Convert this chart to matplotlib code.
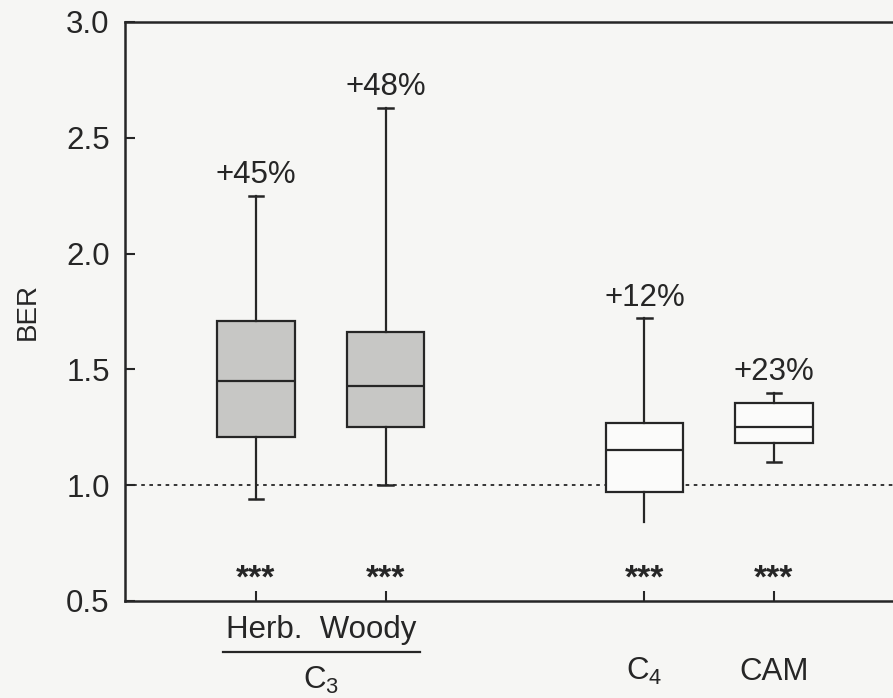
import matplotlib.pyplot as plt
import matplotlib.transforms as mtransforms

plt.rcParams['font.family'] = ['Liberation Sans', 'DejaVu Sans']
plt.rcParams['mathtext.default'] = 'regular'

# box statistics per group: lower whisker, Q1, median, Q3, upper whisker
groups = ['Herb', 'Woody', 'C4', 'CAM']
positions = [1, 2, 4, 5]
whislo = [0.94, 1.00, 0.84, 1.10]
q1 = [1.21, 1.25, 0.97, 1.18]
med = [1.45, 1.43, 1.15, 1.25]
q3 = [1.71, 1.66, 1.27, 1.355]
whishi = [2.25, 2.63, 1.72, 1.40]
pct_labels = ['+45%', '+48%', '+12%', '+23%']
sig_labels = ['***', '***', '***', '***']
box_colors = ['#c7c7c5', '#c7c7c5', '#fbfbfa', '#fbfbfa']

bg = '#f6f6f4'
ink = '#262626'
fs = 22.5

fig = plt.figure(figsize=(8.93, 6.98), dpi=100, facecolor=bg)
ax = fig.add_axes([0.14, 0.139, 0.86, 0.8295])
ax.set_facecolor(bg)

stats = []
for i in range(len(groups)):
    stats.append(dict(label=groups[i], whislo=whislo[i], q1=q1[i], med=med[i],
                      q3=q3[i], whishi=whishi[i], fliers=[]))

bp = ax.bxp(stats, positions=positions, widths=0.6, capwidths=0.11,
            patch_artist=True, showfliers=False,
            boxprops=dict(linewidth=1.6, edgecolor=ink),
            whiskerprops=dict(linewidth=1.6, color=ink),
            capprops=dict(linewidth=1.8, color=ink),
            medianprops=dict(linewidth=1.6, color=ink))
for patch, c in zip(bp['boxes'], box_colors):
    patch.set_facecolor(c)
# C4 lower whisker has no cap
bp['caps'][4].set_visible(False)

ax.axhline(1.0, color=ink, lw=1.3, ls=(0, (2, 2.5)), zorder=0)

for x, top, t in zip(positions, whishi, pct_labels):
    ax.annotate(t, (x, top), xytext=(0, 9), textcoords='offset points',
                ha='center', va='baseline', fontsize=fs, color=ink)
for x, t in zip(positions, sig_labels):
    ax.text(x, 0.56, t, ha='center', va='baseline', fontsize=24,
            fontweight='bold', color=ink)

ax.set_xlim(-0.012, 5.92)
ax.set_ylim(0.5, 3.0)
ax.set_yticks([0.5, 1.0, 1.5, 2.0, 2.5, 3.0])
ax.set_yticklabels(['0.5', '1.0', '1.5', '2.0', '2.5', '3.0'])
ax.set_xticks(positions)
ax.set_xticklabels([])
ax.tick_params(direction='in', length=7, width=1.5, color=ink,
               labelsize=fs, labelcolor=ink, pad=11)
ax.spines['right'].set_visible(False)
for s in ['left', 'top', 'bottom']:
    ax.spines[s].set_linewidth(1.8)
    ax.spines[s].set_color(ink)

ax.set_ylabel('BER', fontsize=20, color=ink, labelpad=18)

# group labels under the axis
trans = mtransforms.blended_transform_factory(ax.transData, ax.transAxes)
ax.text(1.5, -0.064, 'Herb.  Woody', transform=trans, ha='center',
        va='baseline', fontsize=fs, color=ink)
ax.plot([0.745, 2.27], [-0.088, -0.088], transform=trans, color=ink,
        lw=1.6, clip_on=False)
ax.text(1.5, -0.152, 'C$_3$', transform=trans, ha='center', va='baseline',
        fontsize=fs, color=ink)
ax.text(4, -0.137, 'C$_4$', transform=trans, ha='center', va='baseline',
        fontsize=fs, color=ink)
ax.text(5, -0.137, 'CAM', transform=trans, ha='center', va='baseline',
        fontsize=fs, color=ink)

fig.savefig('out.png', dpi=100, facecolor=bg)
